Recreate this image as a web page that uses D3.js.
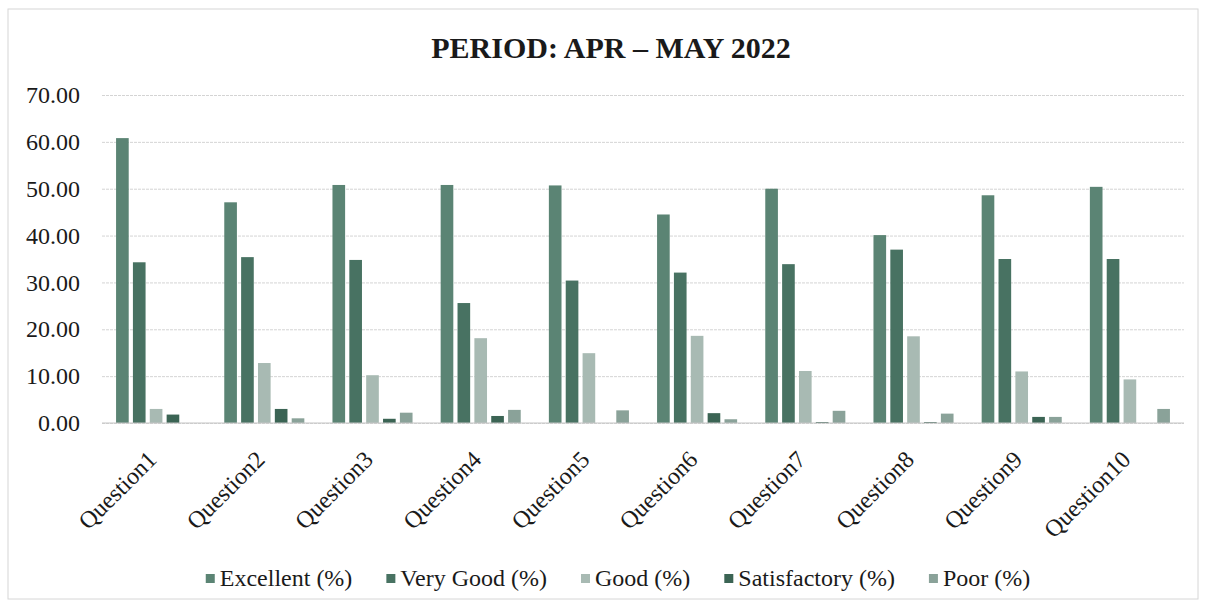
<!DOCTYPE html>
<html lang="en">
<head>
<meta charset="utf-8">
<script src="https://d3js.org/d3.v7.min.js"></script>
<style>
  body { margin: 0; background: #fff; }
  text { font-family: "Liberation Serif", "Times New Roman", serif; fill: #1a1a1a; }
</style>
</head>
<body>
<script>
// the data
var questions = ["Question1", "Question2", "Question3", "Question4", "Question5",
                 "Question6", "Question7", "Question8", "Question9", "Question10"];
var seriesNames = ["Excellent (%)", "Very Good (%)", "Good (%)", "Satisfactory (%)", "Poor (%)"];
var excellent    = [60.8, 47.1, 50.8, 50.8, 50.7, 44.5, 50.0, 40.1, 48.6, 50.4];
var veryGood     = [34.3, 35.4, 34.8, 25.6, 30.4, 32.1, 33.9, 37.0, 35.0, 35.0];
var good         = [3.0, 12.8, 10.2, 18.1, 14.9, 18.6, 11.1, 18.5, 11.0, 9.3];
var satisfactory = [1.8, 3.0, 0.9, 1.5, 0, 2.1, 0.2, 0.2, 1.3, 0];
var poor         = [0, 1.0, 2.2, 2.8, 2.7, 0.8, 2.6, 2.0, 1.3, 3.0];
var yTicks = [0, 10, 20, 30, 40, 50, 60, 70];

var seriesValues = [excellent, veryGood, good, satisfactory, poor];
var colours = ["#5b8474", "#487262", "#a8bab3", "#3b6454", "#8aa299"];

var width = 1207, height = 605;
var plot = {left: 102, right: 1184, top: 95, bottom: 423};

var svg = d3.select("body").append("svg")
            .attr("width", width)
            .attr("height", height);

// outer frame
svg.append("rect")
   .attr("x", 8).attr("y", 9)
   .attr("width", 1190).attr("height", 590)
   .attr("fill", "#fff")
   .attr("stroke", "#d6d6d6");

// scales
var x0 = d3.scaleBand()
           .domain(questions)
           .range([plot.left, plot.right])
           .paddingInner(0.26)
           .paddingOuter(0.13);

var x1 = d3.scaleBand()
           .domain(seriesNames)
           .range([0, x0.bandwidth()])
           .paddingInner(0.25);

var y = d3.scaleLinear()
          .domain([0, 70])
          .range([plot.bottom, plot.top]);

// gridlines + y labels
var yAxis = d3.axisLeft(y)
              .tickValues(yTicks)
              .tickSize(-(plot.right - plot.left))
              .tickPadding(22)
              .tickFormat(d3.format(".2f"));

var gy = svg.append("g")
            .attr("transform", "translate(" + plot.left + ",0)")
            .call(yAxis);
gy.select(".domain").remove();
gy.selectAll(".tick line")
  .attr("stroke", "#d4d4d4")
  .attr("stroke-width", 1)
  .attr("stroke-dasharray", "3,1");
gy.selectAll(".tick text")
  .style("font-size", "24px")
  .attr("fill", "#1a1a1a");

// the bars
var groups = svg.append("g").selectAll("g")
                .data(questions)
                .enter().append("g")
                .attr("transform", function(d) { return "translate(" + x0(d) + ",0)"; });

groups.selectAll("rect")
      .data(function(q, i) {
              return seriesNames.map(function(s, k) {
                      return {name: s, value: seriesValues[k][i], k: k};
              });
      })
      .enter().append("rect")
      .attr("x", function(d) { return x1(d.name); })
      .attr("y", function(d) { return y(d.value); })
      .attr("width", x1.bandwidth())
      .attr("height", function(d) { return y(0) - y(d.value); })
      .attr("fill", function(d) { return colours[d.k]; });

// baseline
svg.append("line")
   .attr("x1", plot.left).attr("x2", plot.right)
   .attr("y1", y(0)).attr("y2", y(0))
   .attr("stroke", "#c4c4c4");

// x labels, rotated
svg.append("g").selectAll("text")
   .data(questions)
   .enter().append("text")
   .attr("text-anchor", "end")
   .attr("transform", function(d) {
           var cx = x0(d) + x0.bandwidth() / 2;
           return "translate(" + (cx + 2) + "," + (plot.bottom + 38) + ") rotate(-45)";
   })
   .style("font-size", "24px")
   .text(function(d) { return d; });

// title
svg.append("text")
   .attr("x", 611).attr("y", 58)
   .attr("text-anchor", "middle")
   .style("font-size", "30px")
   .style("font-weight", "bold")
   .text("PERIOD: APR \u2013 MAY 2022");

// legend
var legend = svg.append("g");
var lx = 0, gap = 34, box = 9;
seriesNames.forEach(function(s, k) {
        var item = legend.append("g").attr("transform", "translate(" + lx + ",0)");
        item.append("rect")
            .attr("x", 0).attr("y", -box - 3)
            .attr("width", box).attr("height", box)
            .attr("fill", colours[k]);
        var t = item.append("text")
                    .attr("x", box + 5).attr("y", 0)
                    .style("font-size", "24px")
                    .text(s);
        lx += box + 5 + t.node().getComputedTextLength() + gap;
});
var legendWidth = lx - gap;
legend.attr("transform", "translate(" + (618 - legendWidth / 2) + ",586)");
</script>
</body>
</html>
